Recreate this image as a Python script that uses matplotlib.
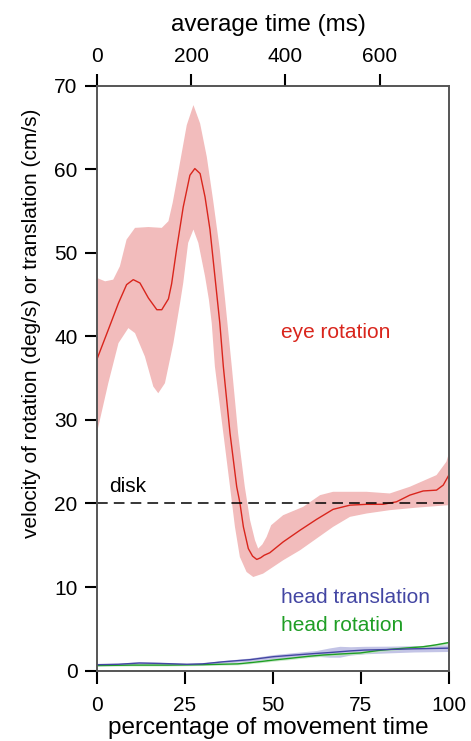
import numpy as np
import matplotlib
matplotlib.use("Agg")
import matplotlib.pyplot as plt

plt.rcParams['font.family'] = ['Liberation Sans', 'DejaVu Sans']
plt.rcParams['font.size'] = 15

# eye rotation (deg/s): mean and band edges
eye_x = [0, 3.2, 6.1, 8.4, 10.3, 12.2, 14.6, 17.0, 18.4, 20.3, 21.2, 22.6, 24.5, 26.4, 27.8,
         29.3, 30.7, 32.1, 33.5, 34.9, 35.9, 37.8, 39.7, 40.6, 41.6, 43.0, 44.2, 45.4, 46.5,
         47.5, 49.1, 52.9, 57.7, 62.4, 67.1, 71.9, 76.6, 81.3, 85.1, 88.9, 92.7, 96.5, 98.4, 100]
eye_mean = [37.3, 40.8, 44.0, 46.2, 46.8, 46.4, 44.6, 43.2, 43.2, 44.5, 46.3, 50.4, 55.5,
            59.3, 60.1, 59.5, 56.7, 52.8, 47.2, 41.6, 36.4, 28.4, 22.0, 20.1, 17.2, 14.6,
            13.7, 13.3, 13.5, 13.8, 14.1, 15.4, 16.8, 18.1, 19.3, 19.8, 19.9, 19.9, 20.2,
            21.0, 21.5, 21.6, 22.2, 23.4]

eye_up_x = [0, 2.3, 4.6, 6.5, 8.4, 10.8, 14.6, 18.4, 20.3, 21.5, 22.6, 24.0, 25.5, 27.4,
            29.3, 31.2, 33.0, 34.9, 36.4, 38.3, 40.1, 42.0, 43.5, 44.9, 45.8, 47.0, 48.2,
            49.5, 52.9, 58.6, 63.4, 67.1, 76.6, 83.2, 88.9, 96.5, 99.3, 100]
eye_upper = [47.0, 46.6, 46.8, 48.4, 51.6, 53.0, 53.1, 53.0, 53.8, 56.0, 58.5, 61.8, 65.3,
             67.7, 65.5, 61.5, 56.3, 50.4, 44.4, 36.4, 28.4, 22.0, 18.0, 15.6, 14.6, 15.1,
             16.0, 17.4, 18.6, 19.6, 21.0, 21.4, 21.4, 21.2, 22.0, 23.4, 25.0, 26.0]

eye_lo_x = [0, 3.2, 6.1, 8.9, 10.8, 13.6, 16.0, 17.4, 19.3, 21.7, 23.6, 24.5, 25.9, 27.4,
            28.8, 30.7, 31.8, 32.6, 33.5, 35.9, 37.8, 39.2, 40.6, 42.5, 44.4, 47.2, 52.9,
            57.7, 62.4, 67.1, 71.9, 76.6, 83.2, 90.8, 100]
eye_lower = [28.5, 34.4, 39.2, 41.0, 40.4, 37.6, 34.0, 33.2, 34.4, 39.2, 44.0, 46.4, 51.2,
             52.8, 51.2, 47.2, 44.4, 41.6, 36.4, 28.4, 22.0, 17.2, 13.6, 11.8, 11.2, 11.6,
             13.2, 14.4, 15.8, 17.2, 18.4, 18.8, 19.2, 19.5, 19.8]

# head translation (cm/s)
trans_x = [0, 6, 12, 18, 25.5, 30, 35.9, 43.5, 50, 56, 62.4, 66, 69, 72, 76, 83.2, 90, 100]
trans_mean = [0.7, 0.75, 0.9, 0.85, 0.75, 0.8, 1.05, 1.3, 1.65, 1.85, 2.05, 2.15, 2.25,
              2.35, 2.45, 2.52, 2.6, 2.68]
trans_sd = [0.12, 0.12, 0.15, 0.12, 0.1, 0.12, 0.15, 0.2, 0.25, 0.3, 0.35, 0.55, 0.65,
            0.5, 0.45, 0.4, 0.38, 0.4]

# head rotation (deg/s)
rot_x = [0, 10, 20, 30, 40, 43.5, 47, 50, 54.8, 60, 64.3, 70, 74.7, 80, 83.2, 88, 92.7, 96, 100]
rot_mean = [0.6, 0.65, 0.65, 0.7, 0.8, 0.94, 1.1, 1.25, 1.46, 1.7, 1.86, 2.0, 2.1, 2.4,
            2.53, 2.7, 2.85, 3.05, 3.35]
rot_sd = [0.1, 0.1, 0.1, 0.1, 0.12, 0.12, 0.13, 0.14, 0.15, 0.15, 0.15, 0.15, 0.15, 0.15,
          0.15, 0.15, 0.15, 0.15, 0.15]

disk_speed = 20
time_max = 747  # ms at 100 %

red = '#d9251c'
red_band = '#f2bcbc'
blue = '#4346a3'
blue_band = '#c3c4e6'
green = '#1f9e25'
green_band = '#bfe5bf'

fig = plt.figure(figsize=(4.71, 7.41), dpi=100)
ax = fig.add_axes([0.206, 0.0951, 0.747, 0.789])

ax.fill(np.concatenate([eye_up_x, eye_lo_x[::-1]]),
        np.concatenate([eye_upper, eye_lower[::-1]]),
        color=red_band, lw=0, zorder=1)
ax.plot(eye_x, eye_mean, color=red, lw=1.0, zorder=4)

tm = np.array(trans_mean); ts = np.array(trans_sd)
ax.fill_between(trans_x, tm - ts, tm + ts, color=blue_band, lw=0, zorder=2)
rm = np.array(rot_mean); rs = np.array(rot_sd)
ax.fill_between(rot_x, rm - rs, rm + rs, color=green_band, lw=0, alpha=0.8, zorder=2)
ax.plot(rot_x, rot_mean, color=green, lw=1.0, zorder=3)
ax.plot(trans_x, trans_mean, color=blue, lw=1.0, zorder=3)

ax.axhline(disk_speed, color='black', lw=1.1, dashes=(7, 4), zorder=5)
ax.text(3.5, 22.0, 'disk', color='black', ha='left', va='center')
ax.text(52.4, 40.5, 'eye rotation', color=red, ha='left', va='center')
ax.text(52.4, 8.7, 'head translation', color=blue, ha='left', va='center')
ax.text(52.4, 5.4, 'head rotation', color=green, ha='left', va='center')

ax.set_xlim(0, 100)
ax.set_ylim(0, 70)
ax.set_xticks([0, 25, 50, 75, 100])
ax.set_yticks(range(0, 71, 10))
ax.set_xlabel('percentage of movement time', fontsize=17.5, va='center')
ax.xaxis.set_label_coords(0.487, -0.098)
ax.set_ylabel('velocity of rotation (deg/s) or translation (cm/s)', va='center')
ax.yaxis.set_label_coords(-0.185, 0.594)
ax.tick_params(direction='out', length=9, width=1.5, color='black')
ax.tick_params(axis='x', pad=9)
ax.tick_params(axis='y', pad=5)

ax2 = ax.twiny()
ax2.set_xlim(0, time_max)
ax2.set_xticks([0, 200, 400, 600])
ax2.set_xlabel('average time (ms)', fontsize=17.5, va='center')
ax2.xaxis.set_label_coords(0.487, 1.104)
ax2.tick_params(direction='out', length=9, width=1.5, color='black', pad=5)

for a in (ax, ax2):
    for s in a.spines.values():
        s.set_color('#555555')
        s.set_linewidth(1.2)

fig.savefig('out.png', dpi=100)
